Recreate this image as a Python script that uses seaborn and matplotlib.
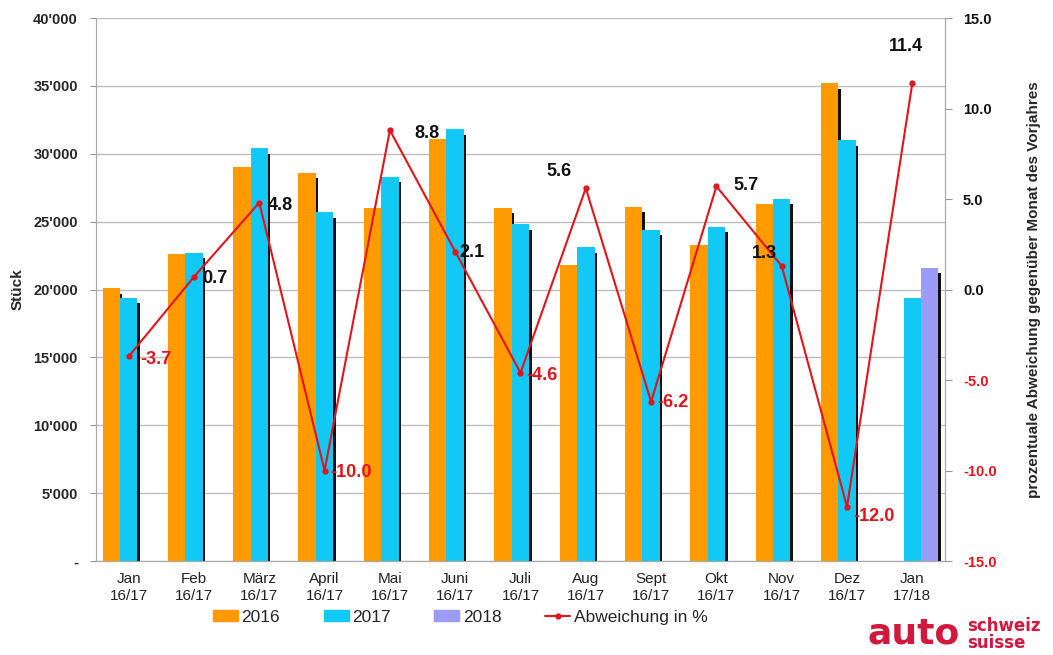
"""
Neuzulassungen Personenwagen: Monatsvergleich mit Abweichung in %
"""
import numpy as np
import pandas as pd
import matplotlib
matplotlib.use('Agg')
import matplotlib.pyplot as plt
from matplotlib.patches import Rectangle
from matplotlib.lines import Line2D
from matplotlib.ticker import FuncFormatter, FixedLocator
import seaborn as sns

# Daten
monate = ['Jan\n16/17', 'Feb\n16/17', 'März\n16/17', 'April\n16/17', 'Mai\n16/17',
          'Juni\n16/17', 'Juli\n16/17', 'Aug\n16/17', 'Sept\n16/17', 'Okt\n16/17',
          'Nov\n16/17', 'Dez\n16/17', 'Jan\n17/18']
jahre = ['2016', '2017', '2018']
stueck_2016 = [20100, 22600, 29000, 28600, 26000, 31100, 26000, 21800, 26100, 23300,
               26300, 35200, None]
stueck_2017 = [19400, 22700, 30400, 25700, 28300, 31800, 24800, 23100, 24400, 24600,
               26700, 31000, 19400]
stueck_2018 = [None, None, None, None, None, None, None, None, None, None, None, None, 21600]
abweichung = [-3.7, 0.7, 4.8, -10.0, 8.8, 2.1, -4.6, 5.6, -6.2, 5.7, 1.3, -12.0, 11.4]

farben = {'2016': '#FF9A00', '2017': '#12C8F4', '2018': '#9C9CF6'}
rot = '#E3141B'

# Label-Versatz in Pixel (dx, dy, ha)
label_pos = [(12, -3, 'left'), (8, -2, 'left'), (8, -3, 'left'), (6, -2, 'left'),
             (24, -3, 'left'), (4, -1, 'left'), (6, -3, 'left'), (-14, 17, 'right'),
             (6, -1, 'left'), (17, 1, 'left'), (-5, 12, 'right'), (6, -10, 'left'),
             (-6, 37, 'center')]

rows = []
for jahr, werte in zip(jahre, [stueck_2016, stueck_2017, stueck_2018]):
    for m, w in zip(monate, werte):
        if w is not None:
            rows.append({'Monat': m, 'Jahr': jahr, 'Stück': w})
df = pd.DataFrame(rows)

sns.set_style('white')
plt.rcParams['font.family'] = ['Liberation Sans', 'DejaVu Sans']

fig = plt.figure(figsize=(10.53, 6.55), dpi=100)
ax = fig.add_axes([0.0912, 0.1435, 0.8062, 0.829])

sns.barplot(data=df, x='Monat', y='Stück', hue='Jahr', order=monate, hue_order=jahre,
            palette=farben, saturation=1, width=0.8, legend=False, ax=ax, zorder=3,
            linewidth=0, edgecolor='none')

# Schatten rechts an den Balken
for p in list(ax.patches):
    x, w, h = p.get_x(), p.get_width(), p.get_height()
    if not np.isfinite(h) or h <= 0:
        continue
    ax.add_patch(Rectangle((x + w, 0), w * 0.14, h - 400, color='#111111',
                           linewidth=0, zorder=2.5))
    ax.add_patch(Rectangle((x, 0), w * 1.14, 110, color='#111111',
                           linewidth=0, zorder=2.4))

ax.set_ylim(0, 40000)
ax.set_xlim(-0.5, len(monate) - 0.5)
ax.yaxis.set_major_locator(FixedLocator(np.arange(0, 40001, 5000)))
ax.yaxis.set_major_formatter(FuncFormatter(
    lambda v, pos: '-' if v == 0 else f'{int(v):,}'.replace(',', "'")))
ax.grid(axis='y', color='#BDBDBD', linewidth=1)
ax.set_axisbelow(True)
ax.set_xlabel('')
ax.set_ylabel('Stück', fontsize=11, fontweight='bold', labelpad=6)
ax.tick_params(axis='y', labelsize=10.5, length=4, color='#999999', pad=9)
for t in ax.get_yticklabels():
    t.set_fontweight('bold')
ax.tick_params(axis='x', which='major', length=0, labelsize=11, pad=8, labelcolor='#222222')
for t in ax.get_xticklabels():
    t.set_linespacing(1.25)
ax.set_xticks(np.arange(-0.5, len(monate), 1), minor=True)
ax.tick_params(axis='x', which='minor', length=4, color='#999999', direction='out')
for s in ['left', 'bottom', 'right']:
    ax.spines[s].set_color('#AAAAAA')
ax.spines['top'].set_visible(False)

# Abweichung auf zweiter Achse
ax2 = ax.twinx()
ax2.plot(np.arange(len(abweichung)), abweichung, color=rot, linewidth=1.5,
         marker='o', markersize=3.5, zorder=5)
ax2.set_ylim(-15, 15)
ax2.set_yticks(np.arange(-15, 15.1, 5))
ax2.yaxis.set_major_formatter(FuncFormatter(lambda v, pos: f'{v:.1f}'))
ax2.tick_params(axis='y', labelsize=10.5, length=5, color='#999999', pad=8)
for t, v in zip(ax2.get_yticklabels(), ax2.get_yticks()):
    t.set_fontweight('bold')
    t.set_color(rot if v < 0 else '#111111')
ax2.set_ylabel('prozentuale Abweichung gegenüber Monat des Vorjahres', fontsize=11,
               fontweight='bold', labelpad=22)
for s in ['left', 'bottom', 'right']:
    ax2.spines[s].set_color('#AAAAAA')
ax2.spines['top'].set_visible(False)

for i, (v, (dx, dy, ha)) in enumerate(zip(abweichung, label_pos)):
    ax2.annotate(f'{v:.1f}', (i, v), xytext=(dx, dy), textcoords='offset pixels',
                 ha=ha, va='center', fontsize=13, fontweight='bold',
                 color=rot if v < 0 else '#111111', zorder=6)

# Legende
handles = [Rectangle((0, 0), 1, 1, color=farben[j]) for j in jahre]
handles.append(Line2D([0], [0], color=rot, linewidth=1.5, marker='o', markersize=3.5))
fig.legend(handles, jahre + ['Abweichung in %'], loc='center', ncol=4,
           bbox_to_anchor=(0.437, 0.058), frameon=False, fontsize=12.5,
           handlelength=1.45, handleheight=0.6, handletextpad=0.2, columnspacing=2.5)

# Logo
fig.text(0.824, 0.018, 'auto', fontsize=26, fontweight='bold', color='#D2183C',
         family='DejaVu Sans')
fig.text(0.918, 0.036, 'schweiz', fontsize=12, fontweight='bold', color='#D2183C',
         family='DejaVu Sans')
fig.text(0.918, 0.011, 'suisse', fontsize=12, fontweight='bold', color='#D2183C',
         family='DejaVu Sans')

fig.savefig('out.png', dpi=100)
plt.close(fig)
